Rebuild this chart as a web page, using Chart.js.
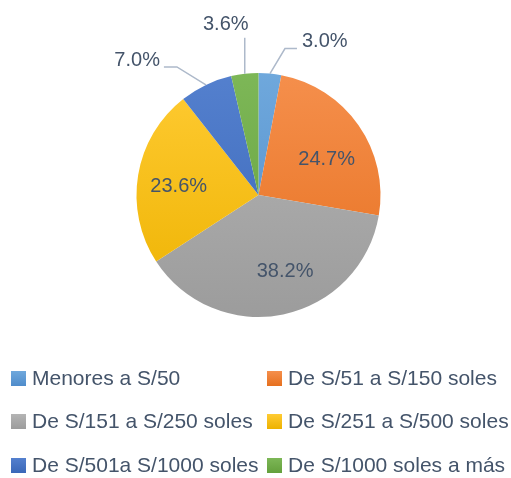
<!DOCTYPE html>
<html>
<head>
<meta charset="utf-8">
<script src="https://cdn.jsdelivr.net/npm/chart.js@4"></script>
<style>
  body { margin: 0; background: #fff; }
  #wrap { position: relative; width: 511px; height: 478px; }
  #legend { position: absolute; left: 0; top: 0; width: 511px; height: 478px; pointer-events: none;
            font-family: "Liberation Sans", Arial, sans-serif; font-size: 21px; color: #44546A; }
  .item { position: absolute; display: flex; align-items: center; white-space: nowrap; }
  .box { width: 15px; height: 15px; margin-right: 6px; }
</style>
</head>
<body>
<div id="wrap">
  <canvas id="pie" width="511" height="478"></canvas>
  <div id="legend"></div>
</div>
<script>
// data
var labels = ["Menores a S/50", "De S/51 a S/150 soles", "De S/151 a S/250 soles",
              "De S/251 a S/500 soles", "De S/501a S/1000 soles", "De S/1000 soles a más"];
var values = [3.0, 24.7, 38.2, 23.6, 7.0, 3.6];
var colorsTop = ["#6FA8DC", "#F58F4C", "#B4B4B4", "#FFCB33", "#5480CE", "#7DB757"];
var colorsBottom = ["#4F8CCB", "#E6701F", "#9C9C9C", "#EDB200", "#3A67B8", "#64A03C"];

// label placement: outside ones get a leader line (offsets from the slice edge)
var outside = {
    0: { elbow: [15, -25], end: [27, -25], text: [32, -32], align: "left" },
    5: { elbow: [0, -36], end: [0, -36], text: [-19, -49], align: "center" },
    4: { elbow: [-29, -18], end: [-42, -18], text: [-46, -24], align: "right" }
};
// small nudges for the inside labels
var nudge = { 1: [5, 8], 2: [11, 1], 3: [-4, 4] };

function grad(ctx, i) {
    var area = ctx.chart.chartArea;
    if (!area) return colorsTop[i];
    var g = ctx.chart.ctx.createLinearGradient(0, area.top, 0, area.bottom);
    g.addColorStop(0, colorsTop[i]);
    g.addColorStop(1, colorsBottom[i]);
    return g;
}

var pieLabels = {
    id: "pieLabels",
    afterDatasetsDraw: function (chart) {
        var c = chart.ctx;
        var meta = chart.getDatasetMeta(0);
        c.save();
        c.font = "20px 'Liberation Sans', Arial, sans-serif";
        c.fillStyle = "#44546A";
        c.textBaseline = "middle";
        meta.data.forEach(function (arc, i) {
            var p = arc.getProps(["x", "y", "startAngle", "endAngle", "outerRadius"], true);
            var mid = (p.startAngle + p.endAngle) / 2;
            var txt = values[i].toFixed(1) + "%";
            var o = outside[i];
            if (o) {
                var ex = p.x + Math.cos(mid) * p.outerRadius;
                var ey = p.y + Math.sin(mid) * p.outerRadius;
                c.strokeStyle = "#ADB9CA";
                c.lineWidth = 1.5;
                c.beginPath();
                c.moveTo(ex, ey);
                c.lineTo(ex + o.elbow[0], ey + o.elbow[1]);
                c.lineTo(ex + o.end[0], ey + o.end[1]);
                c.stroke();
                c.textAlign = o.align;
                c.fillText(txt, ex + o.text[0], ey + o.text[1]);
            } else {
                var r = p.outerRadius * 0.63;
                var n = nudge[i] || [0, 0];
                c.textAlign = "center";
                c.fillText(txt, p.x + Math.cos(mid) * r + n[0], p.y + Math.sin(mid) * r + n[1]);
            }
        });
        c.restore();
    }
};

new Chart("pie", {
    type: "pie",
    data: {
        labels: labels,
        datasets: [{
            data: values,
            backgroundColor: function (ctx) { return grad(ctx, ctx.dataIndex); },
            borderWidth: 0
        }]
    },
    options: {
        responsive: false,
        animation: false,
        layout: { padding: { left: 136, right: 130, top: 73, bottom: 161 } },
        plugins: { legend: { display: false }, tooltip: { enabled: false } }
    },
    plugins: [pieLabels]
});

// legend, two columns
var legend = document.getElementById("legend");
var colX = [11, 267];
var rowY = [378, 421, 465];
labels.forEach(function (name, i) {
    var item = document.createElement("div");
    item.className = "item";
    item.style.left = colX[i % 2] + "px";
    item.style.top = (rowY[Math.floor(i / 2)] - 13) + "px";
    item.style.height = "26px";
    var box = document.createElement("div");
    box.className = "box";
    box.style.background = "linear-gradient(" + colorsTop[i] + "," + colorsBottom[i] + ")";
    var span = document.createElement("span");
    span.textContent = name;
    item.appendChild(box);
    item.appendChild(span);
    legend.appendChild(item);
});
</script>
</body>
</html>
